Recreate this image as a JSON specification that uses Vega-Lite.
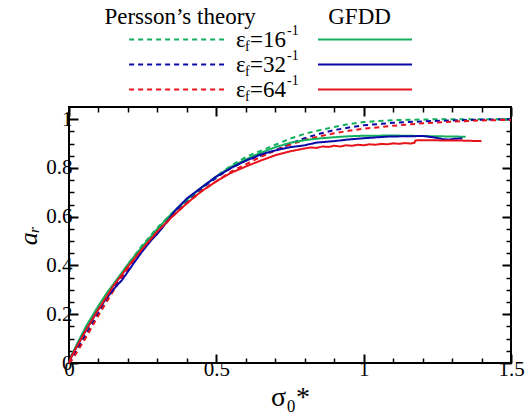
{
  "$schema": "https://vega.github.io/schema/vega-lite/v6.json",
  "padding": {"top": 2, "left": 14, "right": 2, "bottom": 2},
  "background": "white",
  "spacing": 5,
  "bounds": "flush",
  "config": {
    "view": {"stroke": "black", "strokeWidth": 2},
    "font": "Liberation Serif"
  },
  "datasets": {
    "legendRows": [
      {"row": "16", "eps": "16"},
      {"row": "32", "eps": "32"},
      {"row": "64", "eps": "64"}
    ],
    "titleRow": [{"row": "title"}],
    "curves": [
      {"type": "Persson", "eps": "16", "x": 0, "y": 0},
      {"type": "Persson", "eps": "16", "x": 0.01, "y": 0.025},
      {"type": "Persson", "eps": "16", "x": 0.03, "y": 0.07},
      {"type": "Persson", "eps": "16", "x": 0.06, "y": 0.13},
      {"type": "Persson", "eps": "16", "x": 0.1, "y": 0.215},
      {"type": "Persson", "eps": "16", "x": 0.15, "y": 0.315},
      {"type": "Persson", "eps": "16", "x": 0.2, "y": 0.405},
      {"type": "Persson", "eps": "16", "x": 0.25, "y": 0.485},
      {"type": "Persson", "eps": "16", "x": 0.3, "y": 0.555},
      {"type": "Persson", "eps": "16", "x": 0.35, "y": 0.615},
      {"type": "Persson", "eps": "16", "x": 0.4, "y": 0.67},
      {"type": "Persson", "eps": "16", "x": 0.45, "y": 0.72},
      {"type": "Persson", "eps": "16", "x": 0.5, "y": 0.765},
      {"type": "Persson", "eps": "16", "x": 0.55, "y": 0.81},
      {"type": "Persson", "eps": "16", "x": 0.6, "y": 0.845},
      {"type": "Persson", "eps": "16", "x": 0.65, "y": 0.87},
      {"type": "Persson", "eps": "16", "x": 0.7, "y": 0.895},
      {"type": "Persson", "eps": "16", "x": 0.75, "y": 0.92},
      {"type": "Persson", "eps": "16", "x": 0.8, "y": 0.94},
      {"type": "Persson", "eps": "16", "x": 0.85, "y": 0.955},
      {"type": "Persson", "eps": "16", "x": 0.9, "y": 0.968},
      {"type": "Persson", "eps": "16", "x": 0.95, "y": 0.98},
      {"type": "Persson", "eps": "16", "x": 1.0, "y": 0.988},
      {"type": "Persson", "eps": "16", "x": 1.05, "y": 0.993},
      {"type": "Persson", "eps": "16", "x": 1.1, "y": 0.996},
      {"type": "Persson", "eps": "16", "x": 1.2, "y": 0.999},
      {"type": "Persson", "eps": "16", "x": 1.3, "y": 1.0},
      {"type": "Persson", "eps": "16", "x": 1.4, "y": 1.0},
      {"type": "Persson", "eps": "16", "x": 1.5, "y": 1.0},

      {"type": "Persson", "eps": "32", "x": 0, "y": 0},
      {"type": "Persson", "eps": "32", "x": 0.01, "y": 0.02},
      {"type": "Persson", "eps": "32", "x": 0.03, "y": 0.06},
      {"type": "Persson", "eps": "32", "x": 0.06, "y": 0.12},
      {"type": "Persson", "eps": "32", "x": 0.1, "y": 0.205},
      {"type": "Persson", "eps": "32", "x": 0.15, "y": 0.305},
      {"type": "Persson", "eps": "32", "x": 0.2, "y": 0.395},
      {"type": "Persson", "eps": "32", "x": 0.25, "y": 0.475},
      {"type": "Persson", "eps": "32", "x": 0.3, "y": 0.545},
      {"type": "Persson", "eps": "32", "x": 0.35, "y": 0.61},
      {"type": "Persson", "eps": "32", "x": 0.4, "y": 0.665},
      {"type": "Persson", "eps": "32", "x": 0.45, "y": 0.715},
      {"type": "Persson", "eps": "32", "x": 0.5, "y": 0.76},
      {"type": "Persson", "eps": "32", "x": 0.55, "y": 0.8},
      {"type": "Persson", "eps": "32", "x": 0.6, "y": 0.83},
      {"type": "Persson", "eps": "32", "x": 0.65, "y": 0.85},
      {"type": "Persson", "eps": "32", "x": 0.7, "y": 0.872},
      {"type": "Persson", "eps": "32", "x": 0.75, "y": 0.9},
      {"type": "Persson", "eps": "32", "x": 0.8, "y": 0.922},
      {"type": "Persson", "eps": "32", "x": 0.85, "y": 0.94},
      {"type": "Persson", "eps": "32", "x": 0.9, "y": 0.955},
      {"type": "Persson", "eps": "32", "x": 0.95, "y": 0.966},
      {"type": "Persson", "eps": "32", "x": 1.0, "y": 0.975},
      {"type": "Persson", "eps": "32", "x": 1.1, "y": 0.985},
      {"type": "Persson", "eps": "32", "x": 1.2, "y": 0.991},
      {"type": "Persson", "eps": "32", "x": 1.3, "y": 0.995},
      {"type": "Persson", "eps": "32", "x": 1.4, "y": 0.998},
      {"type": "Persson", "eps": "32", "x": 1.5, "y": 1.0},

      {"type": "Persson", "eps": "64", "x": 0, "y": 0},
      {"type": "Persson", "eps": "64", "x": 0.01, "y": 0.012},
      {"type": "Persson", "eps": "64", "x": 0.03, "y": 0.05},
      {"type": "Persson", "eps": "64", "x": 0.06, "y": 0.11},
      {"type": "Persson", "eps": "64", "x": 0.1, "y": 0.195},
      {"type": "Persson", "eps": "64", "x": 0.15, "y": 0.295},
      {"type": "Persson", "eps": "64", "x": 0.2, "y": 0.385},
      {"type": "Persson", "eps": "64", "x": 0.25, "y": 0.465},
      {"type": "Persson", "eps": "64", "x": 0.3, "y": 0.535},
      {"type": "Persson", "eps": "64", "x": 0.35, "y": 0.6},
      {"type": "Persson", "eps": "64", "x": 0.4, "y": 0.655},
      {"type": "Persson", "eps": "64", "x": 0.45, "y": 0.705},
      {"type": "Persson", "eps": "64", "x": 0.5, "y": 0.745},
      {"type": "Persson", "eps": "64", "x": 0.55, "y": 0.785},
      {"type": "Persson", "eps": "64", "x": 0.6, "y": 0.815},
      {"type": "Persson", "eps": "64", "x": 0.65, "y": 0.845},
      {"type": "Persson", "eps": "64", "x": 0.7, "y": 0.872},
      {"type": "Persson", "eps": "64", "x": 0.75, "y": 0.895},
      {"type": "Persson", "eps": "64", "x": 0.8, "y": 0.915},
      {"type": "Persson", "eps": "64", "x": 0.85, "y": 0.93},
      {"type": "Persson", "eps": "64", "x": 0.9, "y": 0.942},
      {"type": "Persson", "eps": "64", "x": 0.95, "y": 0.953},
      {"type": "Persson", "eps": "64", "x": 1.0, "y": 0.961},
      {"type": "Persson", "eps": "64", "x": 1.1, "y": 0.973},
      {"type": "Persson", "eps": "64", "x": 1.2, "y": 0.983},
      {"type": "Persson", "eps": "64", "x": 1.3, "y": 0.99},
      {"type": "Persson", "eps": "64", "x": 1.4, "y": 0.995},
      {"type": "Persson", "eps": "64", "x": 1.5, "y": 0.997},

      {"type": "GFDD", "eps": "16", "x": 0, "y": 0},
      {"type": "GFDD", "eps": "16", "x": 0.01, "y": 0.035},
      {"type": "GFDD", "eps": "16", "x": 0.03, "y": 0.085},
      {"type": "GFDD", "eps": "16", "x": 0.06, "y": 0.155},
      {"type": "GFDD", "eps": "16", "x": 0.1, "y": 0.235},
      {"type": "GFDD", "eps": "16", "x": 0.13, "y": 0.29},
      {"type": "GFDD", "eps": "16", "x": 0.17, "y": 0.355},
      {"type": "GFDD", "eps": "16", "x": 0.2, "y": 0.405},
      {"type": "GFDD", "eps": "16", "x": 0.25, "y": 0.48},
      {"type": "GFDD", "eps": "16", "x": 0.3, "y": 0.55},
      {"type": "GFDD", "eps": "16", "x": 0.35, "y": 0.615},
      {"type": "GFDD", "eps": "16", "x": 0.4, "y": 0.67},
      {"type": "GFDD", "eps": "16", "x": 0.45, "y": 0.72},
      {"type": "GFDD", "eps": "16", "x": 0.5, "y": 0.765},
      {"type": "GFDD", "eps": "16", "x": 0.55, "y": 0.805},
      {"type": "GFDD", "eps": "16", "x": 0.6, "y": 0.835},
      {"type": "GFDD", "eps": "16", "x": 0.65, "y": 0.862},
      {"type": "GFDD", "eps": "16", "x": 0.7, "y": 0.885},
      {"type": "GFDD", "eps": "16", "x": 0.75, "y": 0.903},
      {"type": "GFDD", "eps": "16", "x": 0.8, "y": 0.914},
      {"type": "GFDD", "eps": "16", "x": 0.85, "y": 0.921},
      {"type": "GFDD", "eps": "16", "x": 0.9, "y": 0.926},
      {"type": "GFDD", "eps": "16", "x": 0.95, "y": 0.93},
      {"type": "GFDD", "eps": "16", "x": 1.0, "y": 0.932},
      {"type": "GFDD", "eps": "16", "x": 1.1, "y": 0.933},
      {"type": "GFDD", "eps": "16", "x": 1.2, "y": 0.931},
      {"type": "GFDD", "eps": "16", "x": 1.25, "y": 0.93},
      {"type": "GFDD", "eps": "16", "x": 1.3, "y": 0.929},
      {"type": "GFDD", "eps": "16", "x": 1.346, "y": 0.928},

      {"type": "GFDD", "eps": "32", "x": 0, "y": 0},
      {"type": "GFDD", "eps": "32", "x": 0.01, "y": 0.03},
      {"type": "GFDD", "eps": "32", "x": 0.03, "y": 0.075},
      {"type": "GFDD", "eps": "32", "x": 0.06, "y": 0.14},
      {"type": "GFDD", "eps": "32", "x": 0.1, "y": 0.22},
      {"type": "GFDD", "eps": "32", "x": 0.13, "y": 0.27},
      {"type": "GFDD", "eps": "32", "x": 0.16, "y": 0.315},
      {"type": "GFDD", "eps": "32", "x": 0.18, "y": 0.34},
      {"type": "GFDD", "eps": "32", "x": 0.2, "y": 0.375},
      {"type": "GFDD", "eps": "32", "x": 0.22, "y": 0.41},
      {"type": "GFDD", "eps": "32", "x": 0.25, "y": 0.46},
      {"type": "GFDD", "eps": "32", "x": 0.28, "y": 0.505},
      {"type": "GFDD", "eps": "32", "x": 0.3, "y": 0.53},
      {"type": "GFDD", "eps": "32", "x": 0.33, "y": 0.575},
      {"type": "GFDD", "eps": "32", "x": 0.36, "y": 0.625},
      {"type": "GFDD", "eps": "32", "x": 0.4, "y": 0.675},
      {"type": "GFDD", "eps": "32", "x": 0.45, "y": 0.72},
      {"type": "GFDD", "eps": "32", "x": 0.5, "y": 0.765},
      {"type": "GFDD", "eps": "32", "x": 0.55, "y": 0.8},
      {"type": "GFDD", "eps": "32", "x": 0.6, "y": 0.83},
      {"type": "GFDD", "eps": "32", "x": 0.65, "y": 0.855},
      {"type": "GFDD", "eps": "32", "x": 0.7, "y": 0.872},
      {"type": "GFDD", "eps": "32", "x": 0.75, "y": 0.885},
      {"type": "GFDD", "eps": "32", "x": 0.8, "y": 0.893},
      {"type": "GFDD", "eps": "32", "x": 0.84, "y": 0.904},
      {"type": "GFDD", "eps": "32", "x": 0.9, "y": 0.91},
      {"type": "GFDD", "eps": "32", "x": 0.95, "y": 0.917},
      {"type": "GFDD", "eps": "32", "x": 1.0, "y": 0.922},
      {"type": "GFDD", "eps": "32", "x": 1.05, "y": 0.926},
      {"type": "GFDD", "eps": "32", "x": 1.09, "y": 0.929},
      {"type": "GFDD", "eps": "32", "x": 1.15, "y": 0.93},
      {"type": "GFDD", "eps": "32", "x": 1.2, "y": 0.931},
      {"type": "GFDD", "eps": "32", "x": 1.24, "y": 0.925},
      {"type": "GFDD", "eps": "32", "x": 1.27, "y": 0.918},
      {"type": "GFDD", "eps": "32", "x": 1.29, "y": 0.916},
      {"type": "GFDD", "eps": "32", "x": 1.31, "y": 0.92},
      {"type": "GFDD", "eps": "32", "x": 1.335, "y": 0.921},

      {"type": "GFDD", "eps": "64", "x": 0, "y": 0},
      {"type": "GFDD", "eps": "64", "x": 0.01, "y": 0.03},
      {"type": "GFDD", "eps": "64", "x": 0.03, "y": 0.075},
      {"type": "GFDD", "eps": "64", "x": 0.06, "y": 0.14},
      {"type": "GFDD", "eps": "64", "x": 0.1, "y": 0.22},
      {"type": "GFDD", "eps": "64", "x": 0.15, "y": 0.315},
      {"type": "GFDD", "eps": "64", "x": 0.2, "y": 0.395},
      {"type": "GFDD", "eps": "64", "x": 0.25, "y": 0.47},
      {"type": "GFDD", "eps": "64", "x": 0.3, "y": 0.54},
      {"type": "GFDD", "eps": "64", "x": 0.35, "y": 0.6},
      {"type": "GFDD", "eps": "64", "x": 0.4, "y": 0.655},
      {"type": "GFDD", "eps": "64", "x": 0.45, "y": 0.705},
      {"type": "GFDD", "eps": "64", "x": 0.5, "y": 0.745},
      {"type": "GFDD", "eps": "64", "x": 0.55, "y": 0.78},
      {"type": "GFDD", "eps": "64", "x": 0.6, "y": 0.806},
      {"type": "GFDD", "eps": "64", "x": 0.65, "y": 0.83},
      {"type": "GFDD", "eps": "64", "x": 0.7, "y": 0.852},
      {"type": "GFDD", "eps": "64", "x": 0.75, "y": 0.868},
      {"type": "GFDD", "eps": "64", "x": 0.8, "y": 0.88},
      {"type": "GFDD", "eps": "64", "x": 0.82, "y": 0.884},
      {"type": "GFDD", "eps": "64", "x": 0.84, "y": 0.882},
      {"type": "GFDD", "eps": "64", "x": 0.86, "y": 0.888},
      {"type": "GFDD", "eps": "64", "x": 0.88, "y": 0.886},
      {"type": "GFDD", "eps": "64", "x": 0.9, "y": 0.891},
      {"type": "GFDD", "eps": "64", "x": 0.92, "y": 0.888},
      {"type": "GFDD", "eps": "64", "x": 0.94, "y": 0.893},
      {"type": "GFDD", "eps": "64", "x": 0.96, "y": 0.891},
      {"type": "GFDD", "eps": "64", "x": 0.98, "y": 0.895},
      {"type": "GFDD", "eps": "64", "x": 1.0, "y": 0.893},
      {"type": "GFDD", "eps": "64", "x": 1.02, "y": 0.897},
      {"type": "GFDD", "eps": "64", "x": 1.04, "y": 0.895},
      {"type": "GFDD", "eps": "64", "x": 1.06, "y": 0.899},
      {"type": "GFDD", "eps": "64", "x": 1.08, "y": 0.897},
      {"type": "GFDD", "eps": "64", "x": 1.1, "y": 0.901},
      {"type": "GFDD", "eps": "64", "x": 1.12, "y": 0.899},
      {"type": "GFDD", "eps": "64", "x": 1.14, "y": 0.902},
      {"type": "GFDD", "eps": "64", "x": 1.16, "y": 0.9},
      {"type": "GFDD", "eps": "64", "x": 1.172, "y": 0.903},
      {"type": "GFDD", "eps": "64", "x": 1.176, "y": 0.913},
      {"type": "GFDD", "eps": "64", "x": 1.22, "y": 0.914},
      {"type": "GFDD", "eps": "64", "x": 1.26, "y": 0.913},
      {"type": "GFDD", "eps": "64", "x": 1.3, "y": 0.913},
      {"type": "GFDD", "eps": "64", "x": 1.34, "y": 0.912},
      {"type": "GFDD", "eps": "64", "x": 1.37, "y": 0.911},
      {"type": "GFDD", "eps": "64", "x": 1.4, "y": 0.91}
    ]
  },
  "vconcat": [
    {
      "width": 442,
      "height": 100,
      "view": {"stroke": null},
      "encoding": {
        "y": {"field": "row", "type": "ordinal", "scale": {"type": "point", "domain": ["title", "16", "32", "64"], "padding": 0.5}, "axis": null}
      },
      "layer": [
        {
          "data": {"name": "titleRow"},
          "mark": {"type": "text", "font": "Liberation Serif", "fontSize": 23, "align": "center", "baseline": "middle", "color": "black", "dy": 2},
          "encoding": {
            "x": {"datum": 0.377, "type": "quantitative", "scale": {"domain": [0, 1.5], "nice": false, "zero": false}, "axis": null},
            "text": {"value": "Persson’s theory"}
          }
        },
        {
          "data": {"name": "titleRow"},
          "mark": {"type": "text", "font": "Liberation Serif", "fontSize": 23, "align": "center", "baseline": "middle", "color": "black", "dy": 2},
          "encoding": {
            "x": {"datum": 0.986, "type": "quantitative"},
            "text": {"value": "GFDD"}
          }
        },
        {
          "data": {"name": "legendRows"},
          "mark": {"type": "rule", "strokeWidth": 2, "strokeDash": [5, 4]},
          "encoding": {
            "x": {"datum": 0.204, "type": "quantitative"},
            "x2": {"datum": 0.526},
            "color": {"field": "eps", "type": "nominal", "scale": {"domain": ["16", "32", "64"], "range": ["#12b05e", "#0a0aa8", "#e8141c"]}, "legend": null}
          }
        },
        {
          "data": {"name": "legendRows"},
          "mark": {"type": "rule", "strokeWidth": 2},
          "encoding": {
            "x": {"datum": 0.845, "type": "quantitative"},
            "x2": {"datum": 1.164},
            "color": {"field": "eps", "type": "nominal", "legend": null}
          }
        },
        {
          "data": {"name": "legendRows"},
          "mark": {"type": "text", "font": "Liberation Serif", "fontSize": 23, "align": "left", "baseline": "middle", "color": "black"},
          "encoding": {"x": {"datum": 0.567, "type": "quantitative"}, "text": {"value": "ε"}}
        },
        {
          "data": {"name": "legendRows"},
          "mark": {"type": "text", "font": "Liberation Serif", "fontSize": 14, "align": "left", "baseline": "middle", "color": "black", "dx": 9, "dy": 7},
          "encoding": {"x": {"datum": 0.567, "type": "quantitative"}, "text": {"value": "f"}}
        },
        {
          "data": {"name": "legendRows"},
          "mark": {"type": "text", "font": "Liberation Serif", "fontSize": 23, "align": "left", "baseline": "middle", "color": "black", "dx": 14},
          "encoding": {"x": {"datum": 0.567, "type": "quantitative"}, "text": {"value": "="}}
        },
        {
          "data": {"name": "legendRows"},
          "mark": {"type": "text", "font": "Liberation Serif", "fontSize": 23, "align": "left", "baseline": "middle", "color": "black", "dx": 27},
          "encoding": {"x": {"datum": 0.567, "type": "quantitative"}, "text": {"field": "eps"}}
        },
        {
          "data": {"name": "legendRows"},
          "mark": {"type": "text", "font": "Liberation Serif", "fontSize": 14, "align": "left", "baseline": "middle", "color": "black", "dx": 51, "dy": -9},
          "encoding": {"x": {"datum": 0.567, "type": "quantitative"}, "text": {"value": "-1"}}
        }
      ]
    },
    {
      "width": 442,
      "height": 256,
      "data": {"name": "curves"},
      "layer": [
        {
          "mark": {"type": "line", "strokeWidth": 2},
          "encoding": {
            "x": {
              "field": "x", "type": "quantitative",
              "scale": {"domain": [0, 1.5], "nice": false, "zero": false},
              "axis": {
                "orient": "bottom", "values": [0, 0.5, 1, 1.5], "format": "~g",
                "domain": false, "grid": false, "tickSize": -9, "tickWidth": 2, "tickColor": "black",
                "labelFont": "Liberation Serif", "labelFontSize": 21, "labelColor": "black", "labelPadding": 4,
                "labelFlush": false, "labelOverlap": false,
                "title": "σ₀*", "titleFont": "Liberation Serif", "titleFontSize": 28, "titleFontWeight": "normal", "titleColor": "black", "titlePadding": 4
              }
            },
            "y": {
              "field": "y", "type": "quantitative",
              "scale": {"domain": [0, 1.05], "nice": false, "zero": false},
              "axis": {
                "orient": "left", "values": [0, 0.2, 0.4, 0.6, 0.8, 1], "format": "~g",
                "domain": false, "grid": false, "tickSize": -9, "tickWidth": 2, "tickColor": "black",
                "labelFont": "Liberation Serif", "labelFontSize": 21, "labelColor": "black", "labelPadding": 6,
                "labelFlush": false, "labelOverlap": false,
                "title": "aᵣ", "titleFont": "Liberation Serif", "titleFontSize": 26, "titleFontStyle": "italic", "titleFontWeight": "normal", "titleColor": "black", "titlePadding": 4
              }
            },
            "color": {"field": "eps", "type": "nominal", "scale": {"domain": ["16", "32", "64"], "range": ["#12b05e", "#0a0aa8", "#e8141c"]}, "legend": null},
            "strokeDash": {"field": "type", "type": "nominal", "scale": {"domain": ["Persson", "GFDD"], "range": [[5, 4], [1, 0]]}, "legend": null}
          }
        },
        {
          "mark": {"type": "point", "opacity": 0},
          "encoding": {
            "x": {"field": "x", "type": "quantitative", "axis": {"orient": "bottom", "values": [0.1, 0.2, 0.3, 0.4, 0.6, 0.7, 0.8, 0.9, 1.1, 1.2, 1.3, 1.4], "labels": false, "domain": false, "grid": false, "tickSize": -5, "tickWidth": 1.5, "tickColor": "black", "title": null}},
            "y": {"field": "y", "type": "quantitative", "axis": {"orient": "left", "values": [0.05, 0.1, 0.15, 0.25, 0.3, 0.35, 0.45, 0.5, 0.55, 0.65, 0.7, 0.75, 0.85, 0.9, 0.95], "labels": false, "domain": false, "grid": false, "tickSize": -5, "tickWidth": 1.5, "tickColor": "black", "title": null}}
          }
        },
        {
          "mark": {"type": "point", "opacity": 0},
          "encoding": {
            "x": {"field": "x", "type": "quantitative", "axis": {"orient": "top", "values": [0, 0.5, 1, 1.5], "labels": false, "domain": false, "grid": false, "tickSize": -9, "tickWidth": 2, "tickColor": "black", "title": null}},
            "y": {"field": "y", "type": "quantitative", "axis": {"orient": "right", "values": [0, 0.2, 0.4, 0.6, 0.8, 1], "labels": false, "domain": false, "grid": false, "tickSize": -9, "tickWidth": 2, "tickColor": "black", "title": null}}
          }
        },
        {
          "mark": {"type": "point", "opacity": 0},
          "encoding": {
            "x": {"field": "x", "type": "quantitative", "axis": {"orient": "top", "values": [0.1, 0.2, 0.3, 0.4, 0.6, 0.7, 0.8, 0.9, 1.1, 1.2, 1.3, 1.4], "labels": false, "domain": false, "grid": false, "tickSize": -5, "tickWidth": 1.5, "tickColor": "black", "title": null}},
            "y": {"field": "y", "type": "quantitative", "axis": {"orient": "right", "values": [0.05, 0.1, 0.15, 0.25, 0.3, 0.35, 0.45, 0.5, 0.55, 0.65, 0.7, 0.75, 0.85, 0.9, 0.95], "labels": false, "domain": false, "grid": false, "tickSize": -5, "tickWidth": 1.5, "tickColor": "black", "title": null}}
          }
        }
      ],
      "resolve": {"axis": {"x": "independent", "y": "independent"}}
    }
  ]
}
